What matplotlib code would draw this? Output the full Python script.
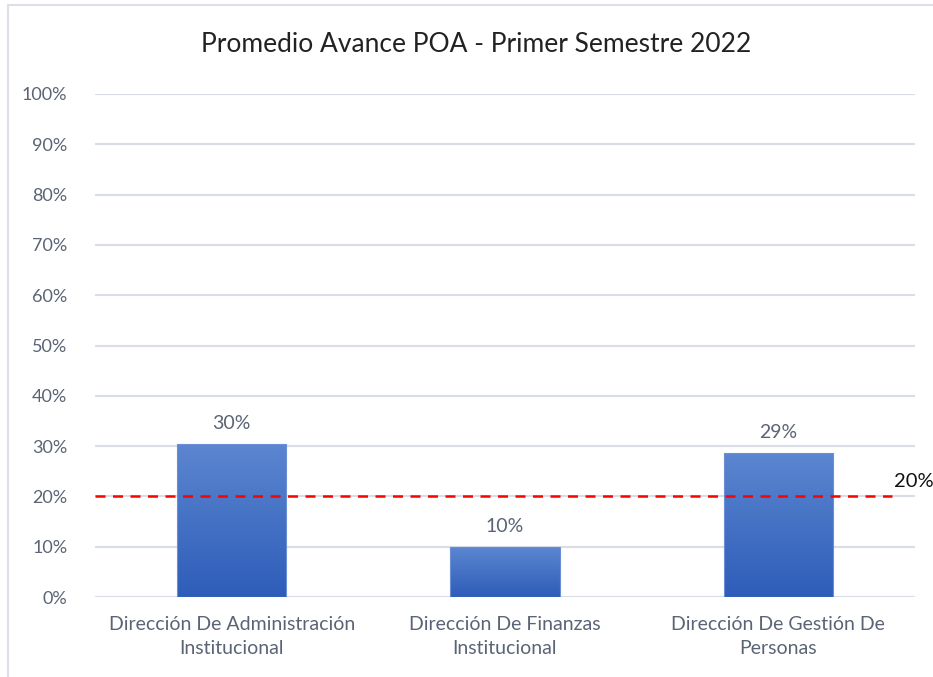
import numpy as np
import matplotlib.pyplot as plt
from matplotlib.patches import Rectangle
from matplotlib.colors import LinearSegmentedColormap

plt.rcParams['font.family'] = ['Lato', 'DejaVu Sans']

# Datos
categorias = ['Dirección De Administración\nInstitucional',
              'Dirección De Finanzas\nInstitucional',
              'Dirección De Gestión De\nPersonas']
avance = [0.304, 0.099, 0.286]
etiquetas = ['30%', '10%', '29%']
meta = 0.20
ticks = np.arange(0, 1.01, 0.1)

texto = '#5A6475'
grid_color = '#D9DDE6'

fig = plt.figure(figsize=(9.33, 6.77), dpi=100)
ax = fig.add_axes([95 / 933, 80 / 677, 820 / 933, 503 / 677])

# borde exterior
fig.patches.append(Rectangle((8 / 933, -0.1), 1.1, (672 / 677) + 0.1,
                             transform=fig.transFigure, fill=False,
                             edgecolor='#DADFE8', linewidth=1.5))

x = np.arange(len(categorias))
ancho = 0.4
cmap = LinearSegmentedColormap.from_list('azul', ['#2E5DB9', '#5C86D0'])
grad = np.linspace(0, 1, 256).reshape(-1, 1)

bars = ax.bar(x, avance, width=ancho, color='none', zorder=3)
for b, lab in zip(bars, etiquetas):
    x0, w, h = b.get_x(), b.get_width(), b.get_height()
    ax.imshow(grad, extent=[x0, x0 + w, 0, h], origin='lower', cmap=cmap,
              aspect='auto', zorder=3)
    ax.add_patch(Rectangle((x0, 0), w, h, fill=False, edgecolor='#6A8FD4',
                           linewidth=0.8, zorder=4))
    ax.text(x0 + w / 2, h + 0.025, lab, ha='center', va='bottom',
            fontsize=14, color=texto)

# linea meta
ax.plot([-0.5, 2.415], [meta, meta], '--', color='#FF0000', linewidth=1.8,
        dashes=(4, 3), zorder=5)
ax.text(2.425, meta + 0.012, '20%', fontsize=14.5, color='#111111',
        ha='left', va='bottom', clip_on=False)

ax.set_xlim(-0.5, 2.5)
ax.set_ylim(0, 1.0)
ax.set_yticks(ticks)
ax.set_yticklabels([f'{int(round(t * 100))}%' for t in ticks])
ax.set_xticks(x)
ax.set_xticklabels(categorias, fontsize=14, color=texto, linespacing=1.45)
ax.tick_params(axis='y', labelsize=13, colors=texto, length=0, pad=20)
ax.tick_params(axis='x', length=0, pad=14)
ax.grid(axis='y', color=grid_color, linewidth=1.5, zorder=0)
for s in ax.spines.values():
    s.set_visible(False)
ax.axhline(0, color=grid_color, linewidth=1.5, zorder=1)

fig.text(476 / 933, 1 - 44 / 677, 'Promedio Avance POA - Primer Semestre 2022',
         ha='center', va='center', fontsize=19, color='#222222')

plt.savefig('out.png', dpi=100)
